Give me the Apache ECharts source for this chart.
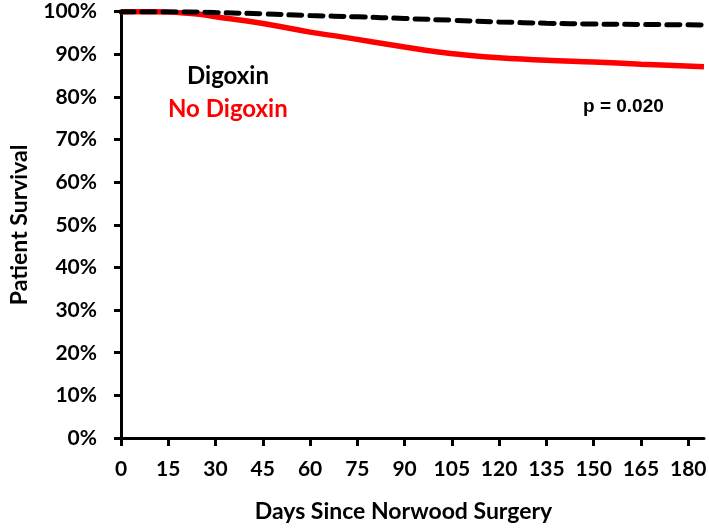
<!DOCTYPE html>
<html>
<head>
<meta charset="utf-8">
<script src="https://cdn.jsdelivr.net/npm/echarts@6/dist/echarts.min.js"></script>
<style>
  html, body { margin: 0; padding: 0; background: #fff; }
  #chart { width: 709px; height: 528px; }
</style>
</head>
<body>
<div id="chart"></div>
<script>
// Days since Norwood surgery and survival (%)
const digoxinDays   = [0, 20, 30, 45, 60, 75, 90, 105, 120, 135, 150, 165, 185];
const digoxinSurv   = [100, 100, 99.8, 99.5, 99.1, 98.8, 98.4, 98.0, 97.6, 97.3, 97.1, 97.0, 96.9];
const noDigoxinDays = [0, 10, 15, 20, 25, 30, 40, 50, 60, 70, 80, 90, 100, 110, 120, 135, 150, 165, 185];
const noDigoxinSurv = [100, 100, 99.9, 99.7, 99.4, 98.8, 97.8, 96.6, 95.2, 94.1, 92.9, 91.7, 90.6, 89.8, 89.2, 88.6, 88.2, 87.7, 87.1];
const xTicks = [0, 15, 30, 45, 60, 75, 90, 105, 120, 135, 150, 165, 180];
const yTicks = [0, 10, 20, 30, 40, 50, 60, 70, 80, 90, 100];
const seriesNames = ['Digoxin', 'No Digoxin'];
const pValueText = 'p = 0.020';

const zip = (a, b) => a.map((v, i) => [v, b[i]]);
const FONT = 'Lato';

const chart = echarts.init(document.getElementById('chart'), null, { renderer: 'canvas' });
chart.setOption({
  animation: false,
  backgroundColor: '#ffffff',
  grid: { left: 103, right: 3, top: 11.7, bottom: 83 },
  xAxis: {
    type: 'value',
    min: 0,
    max: 185,
    interval: 15,
    name: 'Days Since Norwood Surgery',
    nameLocation: 'middle',
    nameGap: 62,
    nameTextStyle: { fontFamily: FONT, fontWeight: 'bold', fontSize: 23, color: '#000', padding: [0, 18, 0, 0] },
    axisLine: { show: true, lineStyle: { color: '#000', width: 3 } },
    axisTick: { show: true, inside: false, length: 8, lineStyle: { color: '#000', width: 3 }, customValues: xTicks },
    axisLabel: { customValues: xTicks, margin: 21, fontFamily: FONT, fontWeight: 'bold', fontSize: 21, color: '#000' },
    splitLine: { show: false }
  },
  yAxis: {
    type: 'value',
    min: 0,
    max: 100,
    interval: 10,
    name: 'Patient Survival',
    nameLocation: 'middle',
    nameGap: 90,
    nameRotate: 90,
    nameTextStyle: { fontFamily: FONT, fontWeight: 'bold', fontSize: 23, color: '#000' },
    axisLine: { show: true, lineStyle: { color: '#000', width: 3 } },
    axisTick: { show: true, inside: false, length: 7, lineStyle: { color: '#000', width: 3 }, customValues: yTicks },
    axisLabel: { customValues: yTicks, formatter: '{value}%', margin: 24, fontFamily: FONT, fontWeight: 'bold', fontSize: 21, color: '#000' },
    splitLine: { show: false }
  },
  series: [
    {
      name: seriesNames[1],
      type: 'line',
      data: zip(noDigoxinDays, noDigoxinSurv),
      smooth: 0.4,
      showSymbol: false,
      lineStyle: { color: '#ff0000', width: 5.5 },
      z: 2
    },
    {
      name: seriesNames[0],
      type: 'line',
      data: zip(digoxinDays, digoxinSurv),
      smooth: 0.4,
      showSymbol: false,
      lineStyle: { color: '#000', width: 5, type: [13, 8], cap: 'round' },
      z: 3
    }
  ],
  graphic: [
    { type: 'text', left: 187, top: 64, style: { text: seriesNames[0], fill: '#000', font: 'bold 24px ' + FONT } },
    { type: 'text', left: 168, top: 97, style: { text: seriesNames[1], fill: '#ff0000', font: 'bold 24px ' + FONT } },
    { type: 'text', left: 583, top: 97, style: { text: pValueText, fill: '#000', font: 'bold 19px "Liberation Sans"' } }
  ]
});
</script>
</body>
</html>
